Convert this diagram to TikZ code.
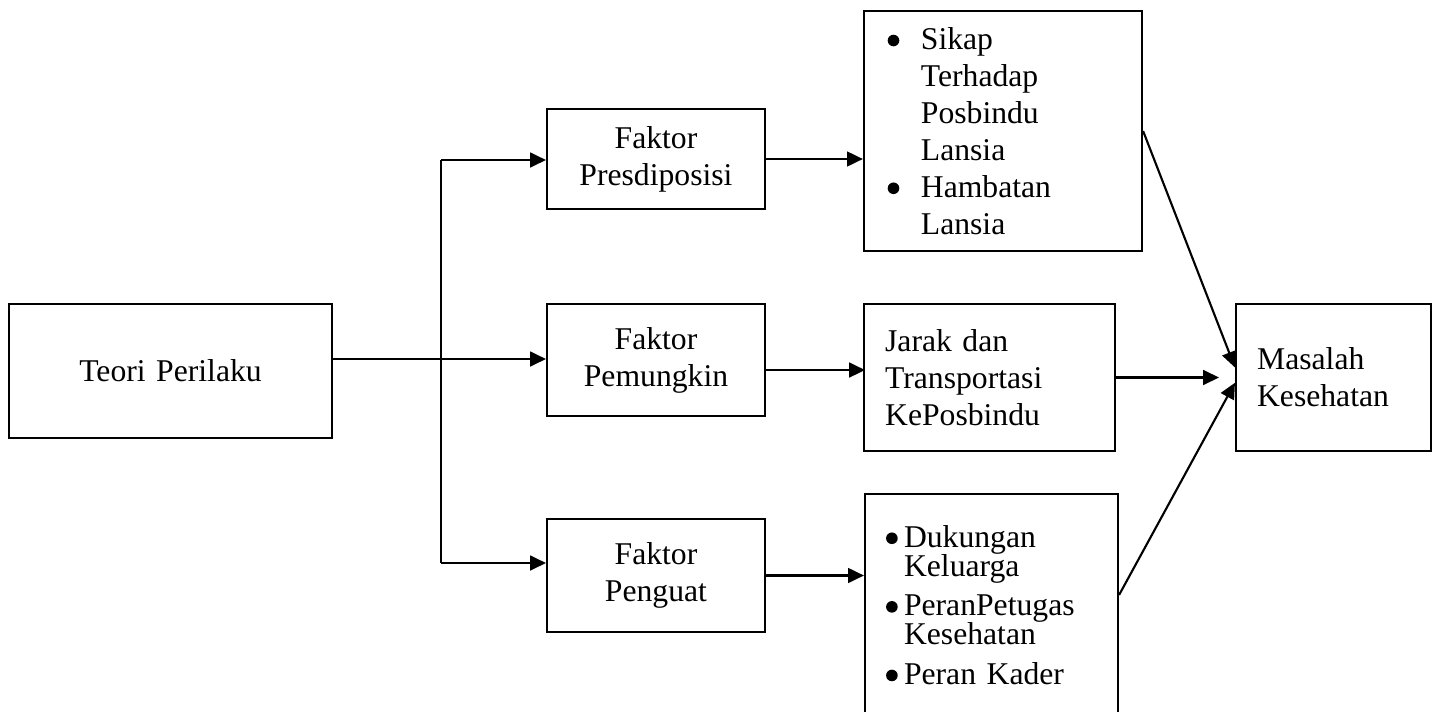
\documentclass[tikz,border=0pt]{standalone}
\usepackage{fontspec}
\setmainfont{Liberation Serif}
\usetikzlibrary{arrows.meta}

\newcommand{\titik}[1]{\makebox[#1][l]{\tikz[baseline=-3.4pt]\fill (0,0) circle[radius=2.2pt];}}

\tikzset{
  kotak/.style={draw=black, line width=0.8pt, inner xsep=8pt, inner ysep=0pt, font=\fontsize{12}{14}\selectfont},
  panah/.style={-{Triangle[length=6pt,width=5.6pt]}, line width=0.8pt},
}

\begin{document}
\begin{tikzpicture}[x=0.379pt, y=-0.379pt]
	\useasboundingbox (0,0) rectangle (1437,712);
	
	\node[kotak, text width=106.4pt, minimum height=50.8pt, align=center] (teori) at (170.5, 371) {Teori Perilaku};
	
	\node[kotak, text width=66.6pt, minimum height=37.9pt, align=center] (presdiposisi) at (656, 159) {Faktor\\Presdiposisi};
	\node[kotak, text width=66.6pt, minimum height=42.4pt, align=center] (pemungkin) at (656, 360) {Faktor\\Pemungkin};
	\node[kotak, text width=66.6pt, minimum height=42.8pt, align=center] (penguat) at (656, 575.5) {Faktor\\Penguat};
	
	\node[kotak, text width=89.4pt, minimum height=91pt, align=left] (sikap) at (1003, 131)
		{\hspace*{1pt}\titik{12.6pt}Sikap\\ \hspace*{13.6pt}Terhadap\\ \hspace*{13.6pt}Posbindu\\ \hspace*{13.6pt}Lansia\\ \hspace*{1pt}\titik{12.6pt}Hambatan\\ \hspace*{13.6pt}Lansia};
	\node[kotak, text width=79.1pt, minimum height=55.7pt, align=left] (jarak) at (989.5, 377.5) {Jarak dan\\Transportasi\\KePosbindu};
	\node[kotak, text width=79.9pt, minimum height=84.1pt, align=left] (dukungan) at (991.5, 605)
		{\titik{6.8pt}Dukungan\\[-3pt] \hspace*{6.8pt}Keluarga\\[1pt] \titik{6.8pt}PeranPetugas\\[-3pt] \hspace*{6.8pt}Kesehatan\\[1pt] \titik{6.8pt}Peran Kader};
	
	\node[kotak, text width=57.9pt, minimum height=55.7pt, align=left] (masalah) at (1333.5, 377.5) {Masalah\\Kesehatan};
	
	\coordinate (cabang) at (441, 359);
	\coordinate (atas) at (441, 160);
	\coordinate (bawah) at (441, 563);
	
	\draw[line width=1.1pt] (teori.east |- cabang) -- (cabang);
	\draw[line width=0.8pt] (atas) -- (bawah);
	\draw[panah] (atas) -- (atas -| presdiposisi.west);
	\draw[panah] (cabang) -- (cabang -| pemungkin.west);
	\draw[panah] (bawah) -- (bawah -| penguat.west);
	
	\draw[panah] (presdiposisi.east) -- (presdiposisi.east -| sikap.west);
	\draw[panah] ([yshift=-3.8pt]pemungkin.east) -- ++(99, 0);
	\draw[panah] (penguat.east) -- (penguat.east -| dukungan.west);
	
	\draw[panah] (sikap.east) -- ([yshift=3.8pt]masalah.west);
	\draw[panah] (jarak.east) -- ++(103, 0);
	\draw[panah] ([yshift=3.8pt]dukungan.east) -- ([yshift=-2pt]masalah.west);
	
\end{tikzpicture}
\end{document}
